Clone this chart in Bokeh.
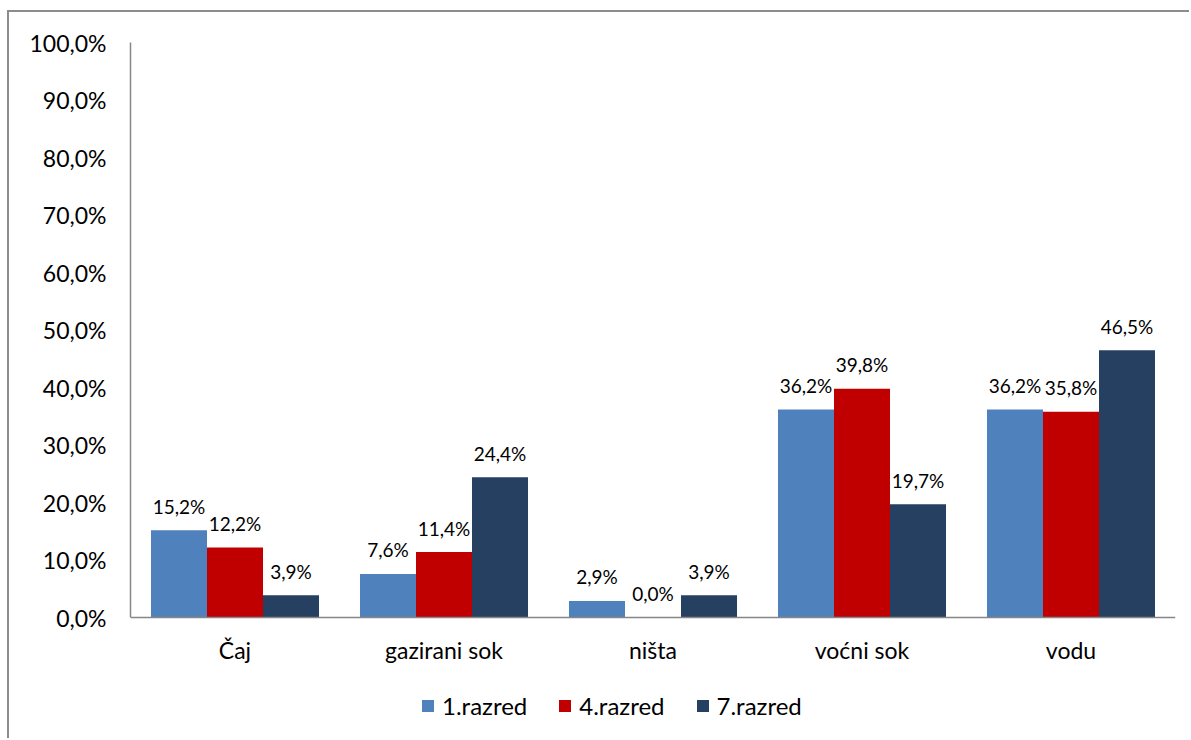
from bokeh.plotting import figure
from bokeh.models import (ColumnDataSource, FactorRange, Range1d, CustomJSTickFormatter,
                          Legend, LegendItem)
from bokeh.transform import dodge
from bokeh.core.properties import value
from bokeh.embed import file_html
from bokeh.resources import INLINE

categories = ["Čaj", "gazirani sok", "ništa", "voćni sok", "vodu"]
series_names = ["1.razred", "4.razred", "7.razred"]
razred1 = [15.2, 7.6, 2.9, 36.2, 36.2]
razred4 = [12.2, 11.4, 0.0, 39.8, 35.8]
razred7 = [3.9, 24.4, 3.9, 19.7, 46.5]
y_ticks = [0, 10, 20, 30, 40, 50, 60, 70, 80, 90, 100]

colors = ["#4F81BD", "#C00000", "#254061"]
FONT = "Lato"

def fmt(v):
    return f"{v:.1f}".replace(".", ",") + "%"

src = ColumnDataSource(dict(
    cat=categories,
    r1=razred1, r4=razred4, r7=razred7,
    l1=[fmt(v) for v in razred1],
    l4=[fmt(v) for v in razred4],
    l7=[fmt(v) for v in razred7],
))

p = figure(x_range=FactorRange(factors=categories, range_padding=0),
           y_range=Range1d(-20.5, 100),
           width=1182, height=728,
           output_backend="svg", toolbar_location=None,
           min_border_left=121, min_border_right=16,
           min_border_top=30, min_border_bottom=5)
p.styles = {"border-left": "2px solid #8c8c8c", "border-top": "2px solid #8c8c8c",
            "margin-top": "10px", "margin-left": "7px"}

bw = 0.268
offsets = [-bw, 0.0, bw]
fields = ["r1", "r4", "r7"]
lfields = ["l1", "l4", "l7"]
items = []
for off, f, lf, c, name in zip(offsets, fields, lfields, colors, series_names):
    r = p.vbar(x=dodge("cat", off, range=p.x_range), top=f, width=bw, source=src,
               fill_color=c, line_color=None)
    items.append(LegendItem(label=name, renderers=[r]))
    p.text(x=dodge("cat", off, range=p.x_range), y=f, text=lf, source=src,
           text_font=value(FONT), text_font_size="19px", text_color="#000000",
           text_align="center", text_baseline="middle", y_offset=-24)

p.grid.visible = False
p.outline_line_color = None
p.background_fill_color = "white"
p.border_fill_color = "white"

p.yaxis.ticker = y_ticks
p.yaxis.bounds = (0, 100)
p.yaxis.formatter = CustomJSTickFormatter(code="return tick.toFixed(1).replace('.', ',') + '%';")
p.xaxis.fixed_location = 0
for ax in (p.xaxis, p.yaxis):
    ax.axis_line_color = "#868686"
    ax.axis_line_width = 1.5
    ax.major_tick_line_color = None
    ax.minor_tick_line_color = None
    ax.major_tick_out = 0
    ax.major_tick_in = 0
    ax.major_label_text_font = FONT
    ax.major_label_text_font_size = "23px"
    ax.major_label_text_color = "#000000"
p.yaxis.major_label_standoff = 24
p.xaxis.major_label_standoff = 18

lg = Legend(items=items, location=(290, 15), orientation="horizontal",
            border_line_color=None, background_fill_alpha=0,
            padding=0, margin=0, spacing=30, label_standoff=7,
            glyph_width=15, glyph_height=15,
            label_text_font=FONT, label_text_font_size="24px",
            label_text_color="#000000")
p.add_layout(lg, "center")

open("out.html", "w").write(file_html(p, INLINE))
